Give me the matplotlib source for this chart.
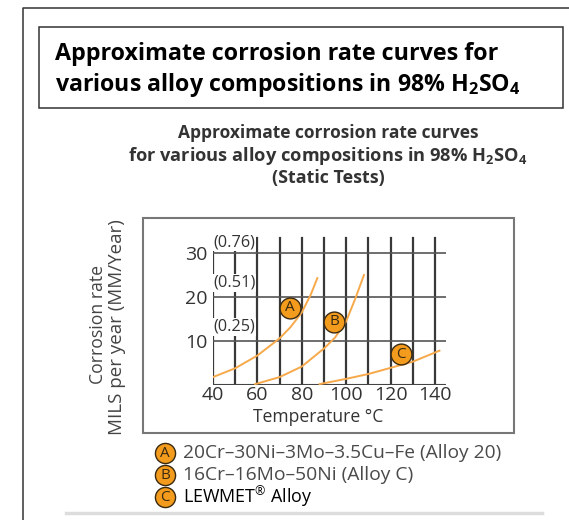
import matplotlib
matplotlib.use("Agg")
import matplotlib.pyplot as plt
from matplotlib.patches import Rectangle

plt.rcParams['font.family'] = ['Open Sans', 'DejaVu Sans']
plt.rcParams['mathtext.fontset'] = 'custom'
plt.rcParams['mathtext.rm'] = 'Open Sans'
plt.rcParams['mathtext.bf'] = 'Open Sans:bold'

# data (temperature in C, corrosion rate in mils/year)
temp_a = [40, 50, 60, 70, 75, 80, 84, 87]
rate_a = [1.8, 3.8, 6.7, 10.6, 13.2, 16.5, 20.5, 24.3]
temp_b = [59, 70, 80, 90, 95, 100, 104, 108]
rate_b = [0.2, 1.8, 4.2, 8.3, 10.8, 14.5, 19.5, 25.0]
temp_c = [88, 100, 110, 120, 130, 142]
rate_c = [0.2, 1.4, 2.5, 3.9, 5.3, 7.8]

labels = ['A', 'B', 'C']
label_x = [74.6, 94.5, 124.8]
label_y = [17.6, 14.4, 7.0]

x_ticks = [40, 60, 80, 100, 120, 140]
x_grid = [40, 50, 60, 70, 80, 90, 100, 110, 120, 130, 140]
y_ticks = [10, 20, 30]
mm_labels = ['(0.25)', '(0.51)', '(0.76)']
mm_y = [13.2, 23.2, 32.5]

legend_text = ['20Cr\u201330Ni\u20133Mo\u20133.5Cu\u2013Fe (Alloy 20)',
               '16Cr\u201316Mo\u201350Ni (Alloy C)',
               'LEWMET$^{\u00ae}$ Alloy']
legend_width = [317, 230, 129]

W, H = 569, 520
fig = plt.figure(figsize=(W / 100, H / 100), dpi=100)
fig.patch.set_facecolor('white')
renderer = fig.canvas.get_renderer()


def fit(t, target, vertical=False):
    # scale the font so the text spans the width seen in the original
    bb = t.get_window_extent(renderer)
    size = bb.height if vertical else bb.width
    t.set_fontsize(t.get_fontsize() * target / size)
    return t


# overlay in pixel coordinates for the page decorations
ov = fig.add_axes([0, 0, 1, 1])
ov.set_xlim(0, W)
ov.set_ylim(H, 0)
ov.axis('off')

ov.plot([23, 23, W], [H, 8, 8], color='#333333', lw=1.1)
ov.add_patch(Rectangle((39, 27), 524, 81, fill=False, ec='#333333', lw=1.1))
t = ov.text(55, 54, 'Approximate corrosion rate curves for', fontsize=15,
            fontweight='bold', color='black', va='center', ha='left')
fit(t, 443)
t = ov.text(55, 85, r'various alloy compositions in 98% H$_\mathbf{2}$SO$_\mathbf{4}$',
            fontsize=15, fontweight='bold', color='black', va='center', ha='left')
fit(t, 467)

t = ov.text(328, 133, 'Approximate corrosion rate curves', fontsize=11,
            fontweight='bold', color='#333333', ha='center', va='center')
fit(t, 302)
t = ov.text(328, 156, r'for various alloy compositions in 98% H$_\mathbf{2}$SO$_\mathbf{4}$',
            fontsize=11, fontweight='bold', color='#333333', ha='center', va='center')
fit(t, 400)
t = ov.text(328, 178, '(Static Tests)', fontsize=11, fontweight='bold',
            color='#333333', ha='center', va='center')
fit(t, 113)

ov.add_patch(Rectangle((143, 218), 371, 215, fill=False, ec='#777777', lw=1.5))

t = ov.text(98, 324, 'Corrosion rate', rotation=90, fontsize=12, color='#444444',
            ha='center', va='center')
fit(t, 118, vertical=True)
t = ov.text(117, 327, 'MILS per year (MM/Year)', rotation=90, fontsize=12,
            color='#444444', ha='center', va='center')
fit(t, 215, vertical=True)
t = ov.text(318, 417, 'Temperature \u00b0C', fontsize=12, color='#333333',
            ha='center', va='center')
fit(t, 130)

for i, lab in enumerate(labels):
    y = 453 + i * 22
    ov.plot([165], [y], marker='o', ms=14.5, mfc='#f29b1c', mec='#3a2a12', mew=1.0)
    ov.text(165, y + 0.5, lab, fontsize=11, color='#3a2a12', ha='center', va='center')
    col = 'black' if i == 2 else '#4a4a4a'
    t = ov.text(183, y, legend_text[i], fontsize=12, color=col, ha='left', va='center')
    fit(t, legend_width[i])

ov.plot([66, 542], [513, 513], color='#dddddd', lw=2.5)

# chart axes, data coordinates
ax = fig.add_axes([213 / W, (H - 385) / H, (446.1 - 213) / W, 149.6 / H])
ax.set_xlim(40, 145)
ax.set_ylim(0, 34)
ax.patch.set_alpha(0)
for s in ax.spines.values():
    s.set_visible(False)

for xg in x_grid:
    ax.plot([xg, xg], [0, 33.4], color='#383838', lw=1.6, zorder=1)
for yg in y_ticks:
    ax.plot([40, 145], [yg, yg], color='#555555', lw=1.2, zorder=1)
ax.plot([40, 145], [0, 0], color='#444444', lw=1.5, zorder=1)

for lab, yy in zip(mm_labels, mm_y):
    t = ax.text(49.5, yy, lab, fontsize=9.5, color='#333333', ha='center', va='center',
                zorder=3, bbox=dict(boxstyle='square,pad=0.05', fc='white', ec='none'))
    fit(t, 42)

orange = '#f7a94a'
ax.plot(temp_a, rate_a, color=orange, lw=1.4, zorder=4)
ax.plot(temp_b, rate_b, color=orange, lw=1.4, zorder=4)
ax.plot(temp_c, rate_c, color=orange, lw=1.4, zorder=4)

ax.scatter(label_x, label_y, s=15 ** 2, c='#f29b1c', edgecolors='#3a2a12',
           linewidths=1.0, zorder=5)
for lab, lx, ly in zip(labels, label_x, label_y):
    ax.text(lx, ly, lab, fontsize=11, color='#3a2a12', ha='center', va='center', zorder=6)

ax.set_xticks(x_ticks)
ax.set_xticklabels([str(t) for t in x_ticks])
ax.set_yticks(y_ticks)
ax.set_yticklabels([str(t) for t in y_ticks])
ax.tick_params(length=0, labelsize=14, colors='#333333')
ax.tick_params(axis='x', pad=1)
ax.tick_params(axis='y', pad=4)

fig.savefig('out.png', dpi=100)
